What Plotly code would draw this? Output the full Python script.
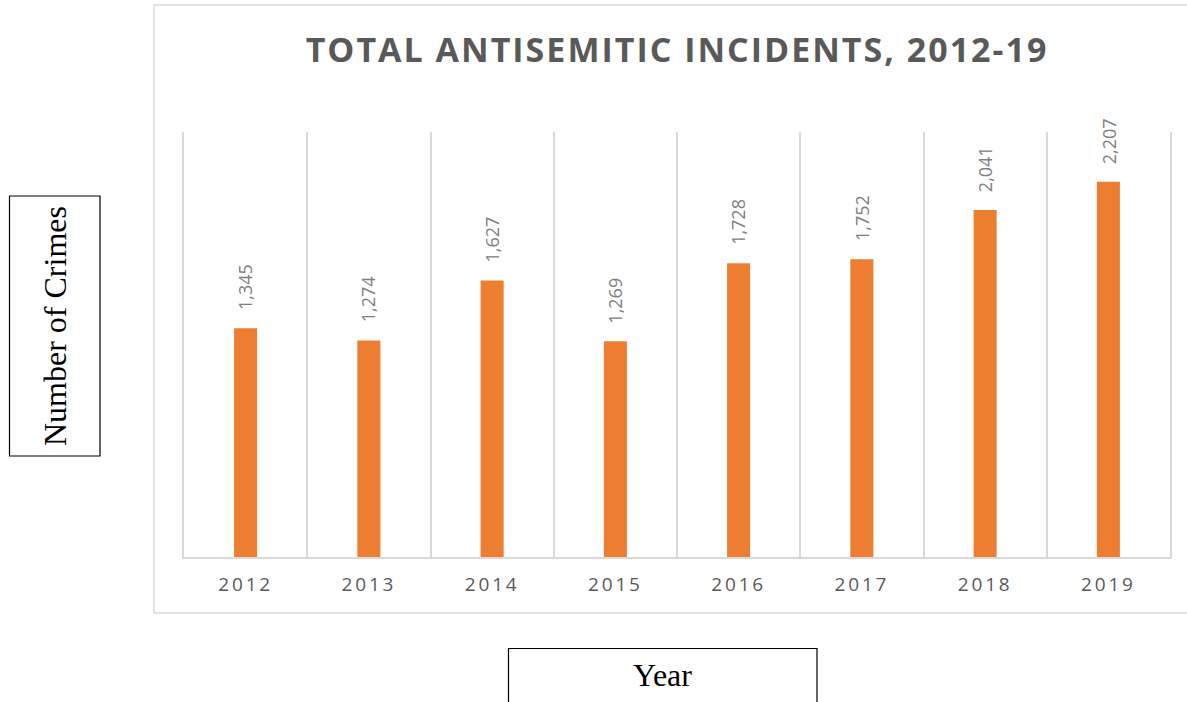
import plotly.graph_objects as go

# Chart data
years = ["2012", "2013", "2014", "2015", "2016", "2017", "2018", "2019"]
incidents = [1345, 1274, 1627, 1269, 1728, 1752, 2041, 2207]
title_text = "TOTAL ANTISEMITIC INCIDENTS, 2012-19"
y_label = "Number of Crimes"
x_label = "Year"

W, H = 1187, 702
ML, MR, MT, MB = 184, 17, 132, 145
PW, PH = W - ML - MR, H - MT - MB


def px_x(px):
    """Convert a pixel x position to paper coordinates."""
    return (px - ML) / PW


def px_y(py):
    """Convert a pixel y position (from top) to paper coordinates."""
    return (H - MB - py) / PH


def spaced(s, gap):
    return f'<span style="letter-spacing:{gap}px">{s}</span>'


fig = go.Figure()
fig.add_trace(go.Bar(
    x=years,
    y=incidents,
    marker=dict(color="#ED7D31", line=dict(width=0)),
    hoverinfo="x+y",
))

# value labels above each bar, rotated (x given as category index)
annotations = []
for i, v in enumerate(incidents):
    annotations.append(dict(
        x=i, y=v, xref="x", yref="y",
        text=f"{v:,}", textangle=-90,
        showarrow=False, yanchor="bottom", xanchor="center", yshift=16,
        font=dict(family="Open Sans", size=18, color="#808080"),
    ))

# boxed axis captions
annotations.append(dict(
    x=px_x(55), y=px_y(326), xref="paper", yref="paper",
    text=y_label, textangle=-90, showarrow=False,
    xanchor="center", yanchor="middle",
    font=dict(family="Liberation Serif", size=32, color="#000000"),
))
annotations.append(dict(
    x=px_x(662), y=px_y(675), xref="paper", yref="paper",
    text=x_label, showarrow=False,
    xanchor="center", yanchor="middle",
    font=dict(family="Liberation Serif", size=32, color="#000000"),
))

shapes = [
    # chart frame
    dict(type="rect", xref="paper", yref="paper",
         x0=px_x(154), x1=px_x(1192), y0=px_y(613), y1=px_y(5),
         line=dict(color="#d9d9d9", width=1.5), fillcolor="rgba(0,0,0,0)", layer="below"),
    # y caption box
    dict(type="rect", xref="paper", yref="paper",
         x0=px_x(9.5), x1=px_x(100), y0=px_y(456), y1=px_y(196),
         line=dict(color="#000000", width=1.2), fillcolor="rgba(0,0,0,0)"),
    # x caption box
    dict(type="rect", xref="paper", yref="paper",
         x0=px_x(508.5), x1=px_x(817), y0=px_y(720), y1=px_y(648.5),
         line=dict(color="#000000", width=1.2), fillcolor="rgba(0,0,0,0)"),
]

fig.update_layout(
    width=W, height=H,
    margin=dict(l=ML, r=MR, t=MT, b=MB, pad=0),
    paper_bgcolor="white", plot_bgcolor="white",
    showlegend=False,
    bargap=0.813,
    title=dict(
        text=spaced(f"<b>{title_text}</b>", 2.0),
        x=0.5, xref="paper", xanchor="center",
        y=(H - 50) / H, yref="container", yanchor="middle",
        font=dict(family="Open Sans", size=34, color="#595959"),
    ),
    xaxis=dict(
        type="category",
        categoryorder="array", categoryarray=years,
        range=[-0.5, len(years) - 0.5], autorange=False,
        tickson="boundaries",
        tickvals=years,
        ticktext=[spaced(y, 2.8) for y in years],
        showgrid=True, gridcolor="#d9d9d9", gridwidth=1.5,
        showline=True, linecolor="#d9d9d9", linewidth=1.5,
        ticks="", ticklabelstandoff=9,
        tickfont=dict(family="Open Sans", size=19, color="#595959"),
        zeroline=False,
    ),
    yaxis=dict(
        range=[0, 2500], autorange=False,
        showgrid=False, showticklabels=False, zeroline=False,
        # left/right edge lines of the plot area
        showline=True, mirror=True, linecolor="#d9d9d9", linewidth=1.5,
        ticks="",
    ),
    annotations=annotations,
    shapes=shapes,
)

fig.write_html("out.html")
